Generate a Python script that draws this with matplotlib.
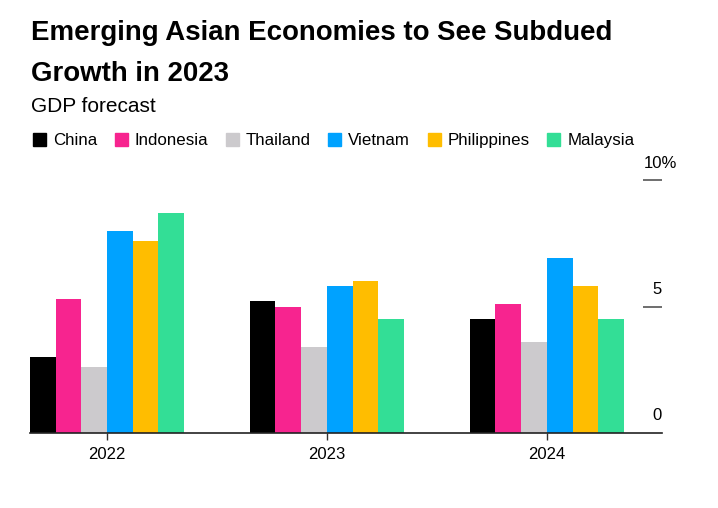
import matplotlib
matplotlib.use('Agg')
import matplotlib.pyplot as plt
import numpy as np

years = ['2022', '2023', '2024']
countries = ['China', 'Indonesia', 'Thailand', 'Vietnam', 'Philippines', 'Malaysia']
gdp = {
    'China':       [3.0, 5.2, 4.5],
    'Indonesia':   [5.3, 5.0, 5.1],
    'Thailand':    [2.6, 3.4, 3.6],
    'Vietnam':     [8.0, 5.8, 6.9],
    'Philippines': [7.6, 6.0, 5.8],
    'Malaysia':    [8.7, 4.5, 4.5],
}
colors = ['#000000', '#f7248f', '#cccacd', '#00a2ff', '#ffbd00', '#33de96']
y_ticks = [0, 5, 10]

plt.rcParams['font.family'] = ['Liberation Sans', 'DejaVu Sans']

W, H = 718, 508
fig = plt.figure(figsize=(W / 100, H / 100), dpi=100)
ax = fig.add_axes([30 / W, 1 - 433 / H, 632 / W, 253 / H])

x = np.arange(len(years))
bw = 0.117
for i, c in enumerate(countries):
    ax.bar(x + (i - 2.5) * bw, gdp[c], bw, color=colors[i], label=c)

ax.set_xlim(-0.35, 2.523)
ax.set_ylim(0, 10)
for s in ['top', 'left', 'right']:
    ax.spines[s].set_visible(False)
ax.spines['bottom'].set_color('#222222')
ax.spines['bottom'].set_linewidth(1.2)
ax.set_xticks(x)
ax.set_xticklabels(years, fontsize=12)
ax.tick_params(axis='x', length=5, width=1, color='#333333', pad=5)

# y axis: short dashes at the right with labels above them
ax.yaxis.tick_right()
ax.set_yticks([5, 10])
ax.set_yticklabels([])
ax.tick_params(axis='y', direction='in', length=14, width=1.2, color='#555555')
fig.canvas.draw()
r = fig.canvas.get_renderer()
for t in y_ticks:
    lab = ax.annotate(str(t), xy=(1, t), xycoords=('axes fraction', 'data'),
                      xytext=(0, 9), textcoords='offset points',
                      ha='right', va='baseline', fontsize=12)
    if t == 10:
        lab.set_text('10%')
        lab.set_horizontalalignment('left')
        w10 = fig.text(0, 0, '10', fontsize=12)
        wpx = w10.get_window_extent(r).width
        w10.remove()
        lab.xyann = (-wpx * 72 / 100, 9)

# titles
fig.text(31 / W, 1 - 40 / H, 'Emerging Asian Economies to See Subdued',
         fontsize=19.9, fontweight='bold', va='baseline')
fig.text(31 / W, 1 - 81 / H, 'Growth in 2023',
         fontsize=19.9, fontweight='bold', va='baseline')
fig.text(31 / W, 1 - 112 / H, 'GDP forecast', fontsize=15, va='baseline')

# legend row
xpos = 33
for i, c in enumerate(countries):
    fig.patches.append(plt.Rectangle((xpos / W, 1 - 146 / H), 13 / W, 13 / H,
                                     transform=fig.transFigure, color=colors[i]))
    t = fig.text((xpos + 20) / W, 1 - 145.5 / H, c, fontsize=12.2, va='baseline')
    tw = t.get_window_extent(r).width
    xpos = xpos + 20 + tw + 17.5

fig.savefig('out.png', dpi=100)
